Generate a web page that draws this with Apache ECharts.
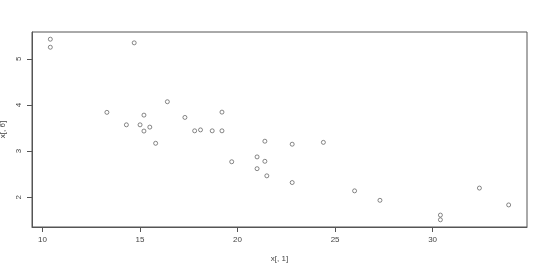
<!DOCTYPE html>
<html><head><meta charset="utf-8">
<script src="https://cdn.jsdelivr.net/npm/echarts@6/dist/echarts.min.js"></script>
<style>html,body{margin:0;padding:0;background:#fff}#c{width:560px;height:267px}</style>
</head><body><div id="c"></div>
<script>
var mpg = [21.0,21.0,22.8,21.4,18.7,18.1,14.3,24.4,22.8,19.2,17.8,16.4,17.3,15.2,10.4,10.4,14.7,32.4,30.4,33.9,21.5,15.5,15.2,13.3,19.2,27.3,26.0,30.4,15.8,19.7,15.0,21.4];
var wt = [2.620,2.875,2.320,3.215,3.440,3.460,3.570,3.190,3.150,3.440,3.440,4.070,3.730,3.780,5.250,5.424,5.345,2.200,1.615,1.835,2.465,3.520,3.435,3.840,3.845,1.935,2.140,1.513,3.170,2.770,3.570,2.780];
var xTicks = [10,15,20,25,30];
var yTicks = [2,3,4,5];
var xName = 'x[, 1]', yName = 'x[, 6]';

var pts = mpg.map(function(v,i){return [v, wt[i]];});
var chart = echarts.init(document.getElementById('c'));
var lab = {color:'#444', fontSize:8, fontFamily:'Liberation Sans, Arial, sans-serif'};
chart.setOption({
  animation:false,
  grid:{left:32, top:32, right:33, bottom:40, show:true, borderColor:'#555', borderWidth:1, backgroundColor:'transparent', containLabel:false, outerBoundsMode:'none'},
  xAxis:{type:'value', min:9.46, max:34.84,
    name:xName, nameLocation:'middle', nameGap:28, nameTextStyle:lab,
    axisLine:{show:true, lineStyle:{color:'#555', width:1}}, splitLine:{show:false},
    axisTick:{show:true, length:5, lineStyle:{color:'#555'}, customValues:xTicks},
    axisLabel:Object.assign({margin:9, customValues:xTicks}, lab)},
  yAxis:{type:'value', min:1.357, max:5.580,
    name:yName, nameLocation:'middle', nameGap:24, nameRotate:90, nameTextStyle:lab,
    axisLine:{show:true, lineStyle:{color:'#555', width:1}}, splitLine:{show:false},
    axisTick:{show:true, length:5, lineStyle:{color:'#555'}, customValues:yTicks},
    axisLabel:Object.assign({margin:9, rotate:90, customValues:yTicks}, lab)},
  series:[{type:'scatter', data:pts, symbol:'circle', symbolSize:4,
    itemStyle:{color:'transparent', borderColor:'#444', borderWidth:0.8}}]
});
</script></body></html>
